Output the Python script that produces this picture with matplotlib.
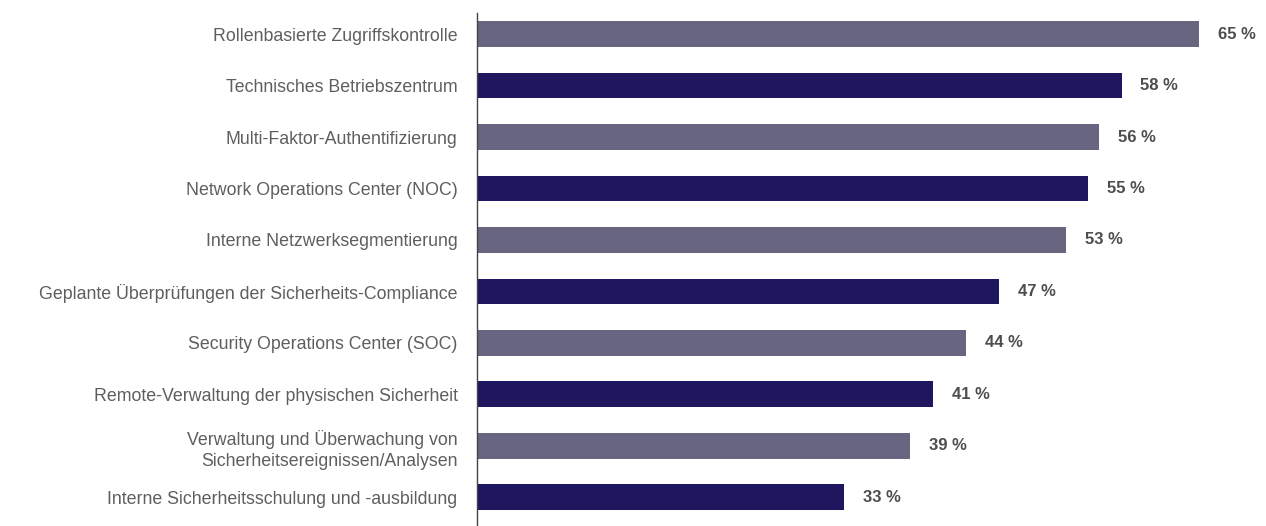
import matplotlib.pyplot as plt

# data (top to bottom)
categories = [
    "Rollenbasierte Zugriffskontrolle",
    "Technisches Betriebszentrum",
    "Multi-Faktor-Authentifizierung",
    "Network Operations Center (NOC)",
    "Interne Netzwerksegmentierung",
    "Geplante Überprüfungen der Sicherheits-Compliance",
    "Security Operations Center (SOC)",
    "Remote-Verwaltung der physischen Sicherheit",
    "Verwaltung und Überwachung von\nSicherheitsereignissen/Analysen",
    "Interne Sicherheitsschulung und -ausbildung",
]
values = [65, 58, 56, 55, 53, 47, 44, 41, 39, 33]

c_light = "#67657f"
c_dark = "#1f1660"
colors = [c_light if i % 2 == 0 else c_dark for i in range(len(values))]

plt.rcParams['font.family'] = ['Liberation Sans', 'DejaVu Sans']

fig = plt.figure(figsize=(12.66, 5.26), dpi=100)
ax = fig.add_axes([477 / 1266, 0, 1 - 477 / 1266, 1 - 13 / 526])

ypos = list(range(len(values)))
ax.barh(ypos, values, height=0.5, color=colors)

for y, v in zip(ypos, values):
    ax.text(v + 1.7, y, f"{v} %", va="center", ha="left",
            fontsize=12, fontweight="bold", color="#4d4d4d")

ax.set_yticks(ypos)
ax.set_yticklabels(categories, fontsize=12.8, color="#5e5e5e",
                   linespacing=1.3)
ax.tick_params(axis="y", length=0, pad=14)
ax.set_xticks([])
ax.set_xlim(0, 71)
ax.set_ylim(len(values) - 1 + 0.56, -0.41)

for s in ["top", "right", "bottom"]:
    ax.spines[s].set_visible(False)
ax.spines["left"].set_color("#444444")
ax.spines["left"].set_linewidth(1)

fig.savefig("out.png", dpi=100)
